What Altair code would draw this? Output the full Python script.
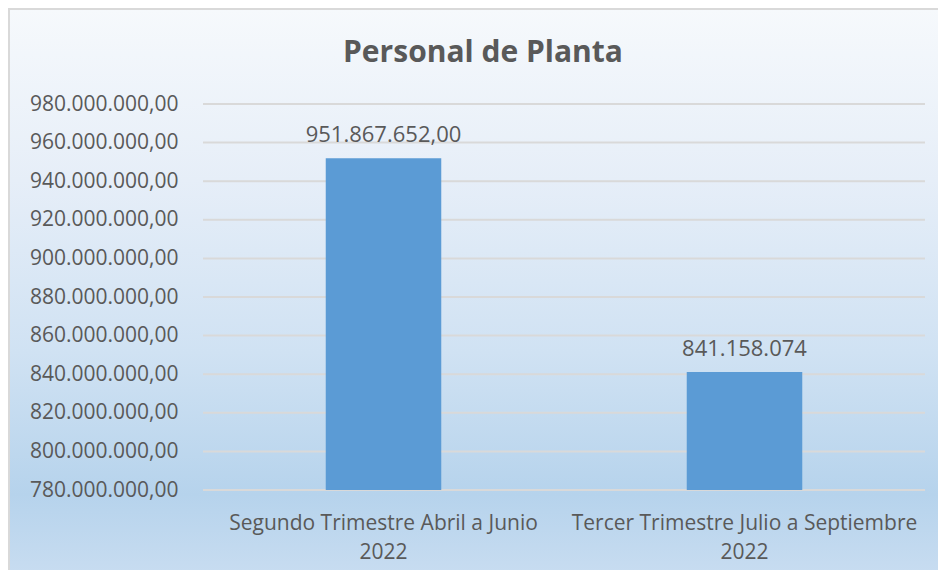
import altair as alt
import pandas as pd

categories = ["Segundo Trimestre Abril a Junio 2022", "Tercer Trimestre Julio a Septiembre 2022"]
values = [951867652.00, 841158074]
labels = ["951.867.652,00", "841.158.074"]
y_min, y_max = 780000000, 980000000
y_ticks = [780000000, 800000000, 820000000, 840000000, 860000000, 880000000,
           900000000, 920000000, 940000000, 960000000, 980000000]
title_text = "Personal de Planta"

df = pd.DataFrame({"cat": categories, "val": values, "lab": labels,
                   "base": [y_min] * len(values)})

W, H = 722, 386
PAD = {"left": 195, "top": 96, "right": 13, "bottom": 80}
TXT = "#595959"
FONT = "Open Sans"

bg = alt.Chart(pd.DataFrame({"a": [0]})).mark_rect(
    color=alt.LinearGradient(
        gradient="linear",
        stops=[
            alt.GradientStop(color="#f6f9fc", offset=0),
            alt.GradientStop(color="#e6eef8", offset=0.3),
            alt.GradientStop(color="#d0e2f3", offset=0.6),
            alt.GradientStop(color="#b6d3ec", offset=0.85),
            alt.GradientStop(color="#c9ddf1", offset=1),
        ],
        x1=0, x2=0, y1=0, y2=1,
    ),
    stroke="#d9d9d9",
    strokeWidth=2,
).encode(
    x=alt.value(-194), x2=alt.value(W + 40),
    y=alt.value(-95), y2=alt.value(H + 90),
)

title = alt.Chart(pd.DataFrame({"t": [title_text]})).mark_text(
    font=FONT, fontSize=30, fontWeight="bold", color=TXT,
    align="center", baseline="middle",
).encode(x=alt.value(280), y=alt.value(-51), text="t:N")

yscale = alt.Scale(domain=[y_min, y_max], zero=False, nice=False)
xscale = alt.Scale(paddingInner=0.68, paddingOuter=0.34)

# "980,000,000.00" -> "980.000.000,00"
label_expr = ("replace(replace(replace(replace(replace(format(datum.value, ',.2f'), '.', ';'),"
              " ',', '.'), ',', '.'), ',', '.'), ';', ',')")

x_axis = alt.Axis(title=None, labelAngle=0, ticks=False, domain=False, grid=False,
                  labelFont=FONT, labelFontSize=21, labelColor=TXT,
                  labelLineHeight=29, labelPadding=22, labelLimit=600, zindex=2,
                  labelExpr="[slice(datum.label, 0, -5), slice(datum.label, -4)]")
y_axis = alt.Axis(title=None, values=y_ticks, ticks=False, domain=False,
                  grid=False, labelLimit=400, zindex=2,
                  labelFont=FONT, labelFontSize=21, labelColor=TXT,
                  labelPadding=25, labelExpr=label_expr)

grid = alt.Chart(pd.DataFrame({"g": y_ticks})).mark_rule(
    color="#d9d9d9", strokeWidth=2,
).encode(y=alt.Y("g:Q", scale=yscale, axis=y_axis), x=alt.value(0), x2=alt.value(W))

bars = alt.Chart(df).mark_bar(color="#5b9bd5").encode(
    x=alt.X("cat:N", sort=categories, scale=xscale, axis=x_axis),
    y=alt.Y("val:Q", scale=yscale, axis=y_axis),
    y2="base:Q",
)

text = alt.Chart(df).mark_text(
    font=FONT, fontSize=22, color=TXT, baseline="middle", dy=-23,
).encode(
    x=alt.X("cat:N", sort=categories, scale=xscale, axis=x_axis),
    y=alt.Y("val:Q", scale=yscale, axis=y_axis),
    text="lab:N",
)

chart = alt.layer(bg, title, grid, bars, text).properties(
    width=W, height=H, padding=PAD,
    autosize=alt.AutoSizeParams(type="none"),
    background="white",
).configure_view(strokeWidth=0)

chart.save("out.html", embed_options={"renderer": "svg", "actions": False})
